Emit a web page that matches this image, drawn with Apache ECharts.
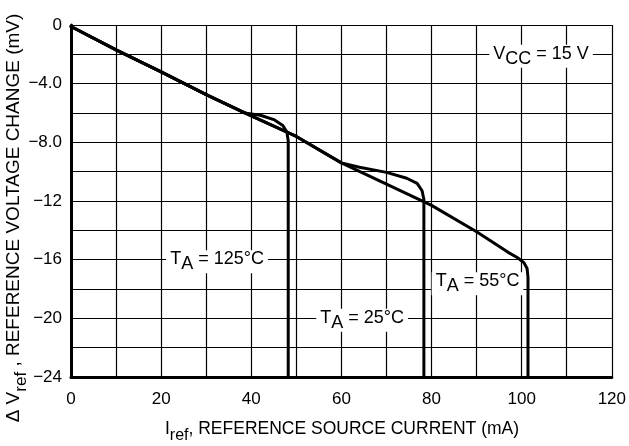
<!DOCTYPE html>
<html>
<head>
<meta charset="utf-8">
<script src="https://cdn.jsdelivr.net/npm/echarts@6/dist/echarts.min.js"></script>
<style>
html,body{margin:0;padding:0;background:#fff;}
#chart{width:629px;height:446px;}
</style>
</head>
<body>
<div id="chart"></div>
<script>
// ---- data ----
const xTicks = [0, 20, 40, 60, 80, 100, 120];
const yTicks = [-24, -20, -16, -12, -8, -4, 0];
const yTickLabels = ['\u221224', '\u221220', '\u221216', '\u221212', '\u22128.0', '\u22124.0', '0'];

// T_A = 125 °C
const t125I = [0, 10, 20, 30, 38.5, 42, 45, 47, 47.9, 48.2, 48.2];
const t125V = [-0.1, -1.7, -3.2, -4.75, -6.0, -6.15, -6.45, -6.85, -7.3, -7.9, -24];
// T_A = 25 °C
const t25I = [0, 10, 20, 30, 40, 50, 60, 64, 70, 74.5, 76.8, 77.9, 78.3, 78.3];
const t25V = [-0.1, -1.7, -3.2, -4.75, -6.2, -7.6, -9.4, -9.7, -10.05, -10.45, -10.8, -11.3, -11.9, -24];
// T_A = 55 °C
const t55I = [0, 10, 20, 30, 40, 50, 60, 70, 80, 90, 97, 99, 100.5, 101.2, 101.4, 101.4];
const t55V = [-0.1, -1.7, -3.2, -4.75, -6.2, -7.6, -9.4, -10.85, -12.3, -14.1, -15.5, -15.85, -16.2, -16.6, -17.2, -24];

// annotation anchors (data units)
const notes = [
  { main: 'V', sub: 'CC', rest: ' = 15 V', at: [104.3, -2.0] },
  { main: 'T', sub: 'A', rest: ' = 125\u00B0C', at: [32.4, -16.0] },
  { main: 'T', sub: 'A', rest: ' = 25\u00B0C', at: [64.6, -20.0] },
  { main: 'T', sub: 'A', rest: ' = 55\u00B0C', at: [90.2, -17.5] }
];

const FONT = '"Liberation Sans", Arial, sans-serif';
const pairs = (xs, ys) => xs.map((x, i) => [x, ys[i]]);

const chart = echarts.init(document.getElementById('chart'), null, { renderer: 'canvas' });

const lineSeries = (name, xs, ys) => ({
  name, type: 'line', data: pairs(xs, ys), showSymbol: false, symbol: 'none',
  lineStyle: { color: '#000', width: 3, join: 'round', cap: 'round' },
  animation: false, z: 5
});

chart.setOption({
  animation: false,
  backgroundColor: '#fff',
  grid: { left: 71, right: 14, top: 25, bottom: 69 },
  xAxis: {
    type: 'value', min: 0, max: 120, interval: 20,
    axisLine: { show: true, onZero: false, lineStyle: { color: '#000', width: 3 } },
    axisTick: { show: false },
    axisLabel: { color: '#000', fontSize: 17, fontFamily: FONT, margin: 14 },
    splitLine: { show: true, lineStyle: { color: '#000', width: 1.2 } },
    minorTick: { show: false, splitNumber: 2 },
    minorSplitLine: { show: true, lineStyle: { color: '#000', width: 1.2 } }
  },
  yAxis: {
    type: 'value', min: -24, max: 0, interval: 4,
    axisLine: { show: true, onZero: false, lineStyle: { color: '#000', width: 3 } },
    axisTick: { show: false },
    axisLabel: {
      color: '#000', fontSize: 17, fontFamily: FONT, margin: 9,
      formatter: v => { const i = yTicks.indexOf(v); return i >= 0 ? yTickLabels[i] : ''; }
    },
    splitLine: { show: true, lineStyle: { color: '#000', width: 1.2 } },
    minorTick: { show: false, splitNumber: 2 },
    minorSplitLine: { show: true, lineStyle: { color: '#000', width: 1.2 } }
  },
  series: [
    lineSeries('125', t125I, t125V),
    lineSeries('25', t25I, t25V),
    lineSeries('55', t55I, t55V)
  ]
});

const rich = {
  m: { fontSize: 18, fontFamily: FONT, color: '#000', lineHeight: 18, verticalAlign: 'top' },
  s: { fontSize: 18, fontFamily: FONT, color: '#000', lineHeight: 23, verticalAlign: 'bottom' }
};

const graphics = notes.map(n => {
  const p = chart.convertToPixel({ gridIndex: 0 }, n.at);
  return {
    type: 'text', x: p[0], y: p[1] + 2, z: 10,
    style: {
      text: '{m|' + n.main + '}{s|' + n.sub + '}{m|' + n.rest + '}',
      rich, align: 'center', verticalAlign: 'middle',
      backgroundColor: '#fff', padding: [0, 4, 0, 4]
    }
  };
});

graphics.push({
  type: 'text', x: 342, y: 432, z: 10,
  style: {
    text: '{m|I}{s|ref}{m|, REFERENCE SOURCE CURRENT (mA)}',
    rich: {
      m: { fontSize: 17.5, fontFamily: FONT, color: '#000', lineHeight: 17, verticalAlign: 'top' },
      s: { fontSize: 16, fontFamily: FONT, color: '#000', lineHeight: 23, verticalAlign: 'bottom' }
    },
    align: 'center', verticalAlign: 'middle'
  }
});
graphics.push({
  type: 'text', x: 17, y: 218, rotation: Math.PI / 2, z: 10,
  style: {
    text: '{m|\u0394 V}{s|ref}{m| , REFERENCE VOLTAGE CHANGE (mV)}',
    rich: {
      m: { fontSize: 19, fontFamily: FONT, color: '#000', lineHeight: 19, verticalAlign: 'top' },
      s: { fontSize: 17, fontFamily: FONT, color: '#000', lineHeight: 25, verticalAlign: 'bottom' }
    },
    align: 'center', verticalAlign: 'middle'
  }
});

chart.setOption({ graphic: graphics });
</script>
</body>
</html>
